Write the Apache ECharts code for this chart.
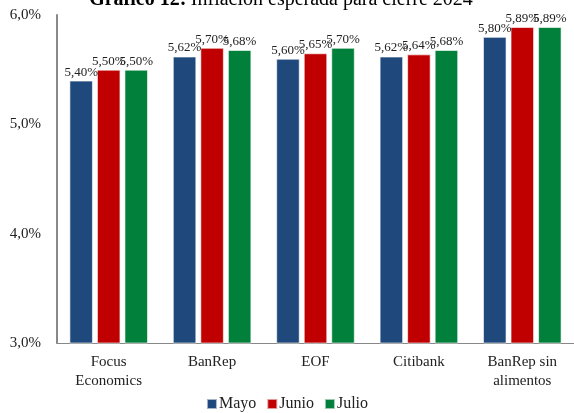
<!DOCTYPE html>
<html>
<head>
<meta charset="utf-8">
<script src="https://cdn.jsdelivr.net/npm/echarts@6/dist/echarts.min.js"></script>
<style>
  html, body { margin: 0; padding: 0; background: #fff; }
  #chart { width: 574px; height: 413px; }
</style>
</head>
<body>
<div id="chart"></div>
<script>
const categories = ['Focus\nEconomics', 'BanRep', 'EOF', 'Citibank', 'BanRep sin\nalimentos']
const mayo = [5.40, 5.62, 5.60, 5.62, 5.80]
const junio = [5.50, 5.70, 5.65, 5.64, 5.89]
const julio = [5.50, 5.68, 5.70, 5.68, 5.89]
const yTicks = [3, 4, 5, 6]

const font = '"Liberation Serif", "Times New Roman", "DejaVu Serif", serif'
const fmt = v => v.toFixed(2).replace('.', ',') + '%'

function bar(name, data, color) {
  return {
    name: name,
    type: 'bar',
    data: data,
    barGap: '17%',
    barCategoryGap: '24%',
    itemStyle: { color: color, borderColor: 'rgba(255,255,255,0.6)', borderWidth: 1 },
    label: {
      show: true,
      position: 'top',
      distance: 2,
      fontFamily: font,
      fontSize: 13,
      color: '#222',
      formatter: p => fmt(p.value)
    }
  }
}

const chart = echarts.init(document.getElementById('chart'))
chart.setOption({
  backgroundColor: '#fff',
  animation: false,
  textStyle: { fontFamily: font },
  title: {
    text: '{b|Gráfico 12:} {n|Inflación esperada para cierre 2024}',
    left: 276,
    textAlign: 'center',
    top: -15,
    textStyle: {
      fontFamily: font,
      rich: {
        b: { fontFamily: font, fontSize: 20, fontWeight: 'bold', color: '#000' },
        n: { fontFamily: font, fontSize: 20, fontWeight: 'normal', color: '#000' }
      }
    }
  },
  legend: {
    bottom: -4,
    left: 'center',
    itemWidth: 10,
    itemHeight: 10,
    itemGap: 10,
    icon: 'rect',
    textStyle: { fontFamily: font, fontSize: 16, color: '#222', padding: [0, 0, 0, -3] },
    data: ['Mayo', 'Junio', 'Julio']
  },
  grid: { left: 57, right: -8, top: 15, bottom: 70 },
  xAxis: {
    type: 'category',
    data: categories,
    axisLine: { lineStyle: { color: '#888', width: 1 } },
    axisTick: { show: false },
    axisLabel: { fontFamily: font, fontSize: 15, color: '#222', lineHeight: 19, margin: 10 }
  },
  yAxis: {
    type: 'value',
    min: yTicks[0],
    max: yTicks[yTicks.length - 1],
    interval: 1,
    axisLine: { show: true, lineStyle: { color: '#888', width: 2 } },
    axisTick: { show: false },
    splitLine: { show: false },
    axisLabel: {
      fontFamily: font,
      fontSize: 15,
      color: '#222',
      margin: 16,
      formatter: v => v.toFixed(1).replace('.', ',') + '%'
    }
  },
  series: [
    bar('Mayo', mayo, '#1f497d'),
    bar('Junio', junio, '#c00000'),
    bar('Julio', julio, '#00803a')
  ]
})
</script>
</body>
</html>
